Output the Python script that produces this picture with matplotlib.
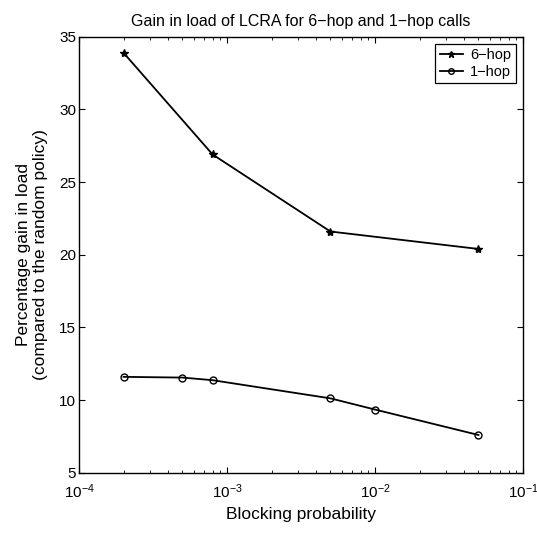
import numpy as np
import matplotlib
matplotlib.use("Agg")
import matplotlib.pyplot as plt
from matplotlib.ticker import LogLocator, NullFormatter

plt.rcParams['font.family'] = ['Liberation Sans', 'DejaVu Sans']
plt.rcParams['mathtext.default'] = 'regular'

# data
p_6hop = [2e-4, 8e-4, 5e-3, 5e-2]
gain_6hop = [33.9, 26.9, 21.6, 20.4]

p_1hop = [2e-4, 5e-4, 8e-4, 5e-3, 1e-2, 5e-2]
gain_1hop = [11.6, 11.55, 11.37, 10.12, 9.35, 7.6]

yticks = [5, 10, 15, 20, 25, 30, 35]
xticks = [1e-4, 1e-3, 1e-2, 1e-1]
xticklabels = ['$10^{-4}$', '$10^{-3}$', '$10^{-2}$', '$10^{-1}$']

fig = plt.figure(figsize=(5.37, 5.33), dpi=100)
ax = fig.add_axes([0.147, 0.113, 0.827, 0.818])

ax.plot(p_6hop, gain_6hop, color='black', lw=1.3, marker='*', ms=6, label='6-hop')
ax.plot(p_1hop, gain_1hop, color='black', lw=1.3, marker='o', ms=5,
        mfc='none', mew=1.0, label='1-hop')

ax.set_xscale('log')
ax.set_xlim(1e-4, 1e-1)
ax.set_ylim(5, 35)
ax.set_xticks(xticks)
ax.set_xticklabels(xticklabels)
ax.xaxis.set_minor_locator(LogLocator(base=10, subs=np.arange(2, 10)))
ax.xaxis.set_minor_formatter(NullFormatter())
ax.set_yticks(yticks)

ax.tick_params(which='both', direction='in', top=True, right=True, labelsize=11)
ax.tick_params(axis='x', which='major', pad=7)
ax.tick_params(axis='y', which='major', pad=2)
ax.tick_params(which='major', length=4, width=0.8)
ax.tick_params(which='minor', length=2, width=0.6)
for s in ax.spines.values():
    s.set_linewidth(1.0)

ax.set_title('Gain in load of LCRA for 6\u2212hop and 1\u2212hop calls', fontsize=11.5, pad=8)
ax.set_xlabel('Blocking probability', fontsize=12.5, labelpad=4)
ax.set_ylabel('Percentage gain in load\n(compared to the random policy)', fontsize=12.5, labelpad=8)

leg = ax.legend(['6\u2212hop', '1\u2212hop'], loc='upper right', fontsize=10.5,
                fancybox=False, edgecolor='black', framealpha=1,
                handlelength=1.6, borderpad=0.3, labelspacing=0.15,
                borderaxespad=0.5, handletextpad=0.5, markerscale=0.8)
leg.get_frame().set_linewidth(0.9)

fig.savefig('out.png', dpi=100)
